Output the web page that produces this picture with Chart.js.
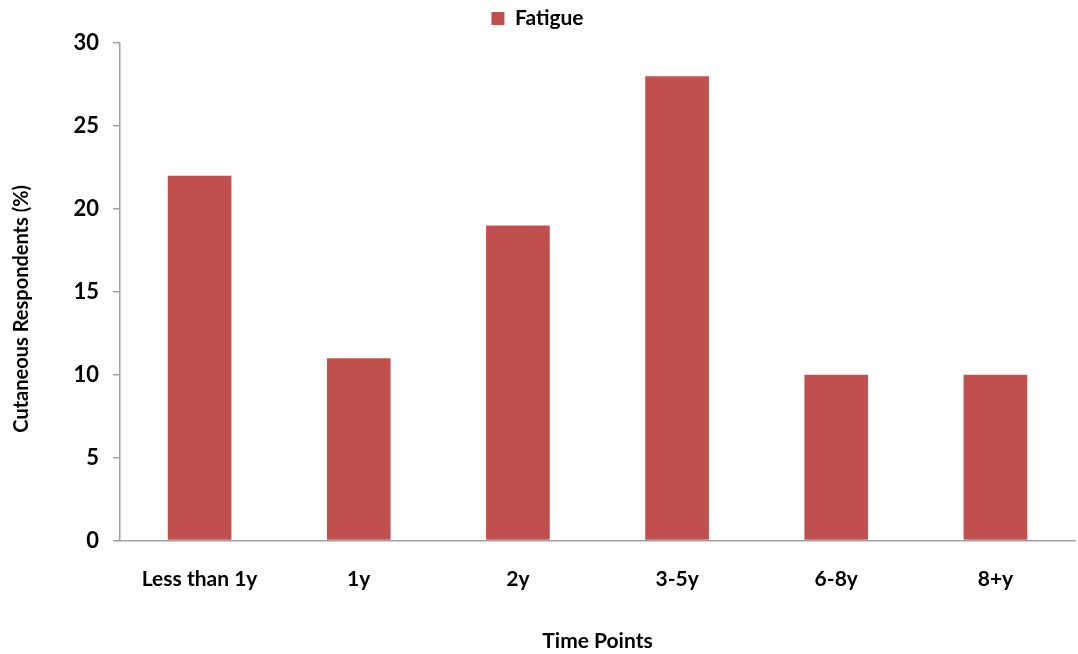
<!DOCTYPE html>
<html>
<head>
<meta charset="utf-8">
<script src="https://cdn.jsdelivr.net/npm/chart.js@4/dist/chart.umd.min.js"></script>
<style>
  html, body { margin: 0; padding: 0; background: #fff; }
  #wrap { width: 1078px; height: 654px; }
</style>
</head>
<body>
<div id="wrap"><canvas id="c" width="1078" height="654"></canvas></div>
<script>
const categories = ['Less than 1y', '1y', '2y', '3-5y', '6-8y', '8+y'];
const fatigue = [22, 11, 19, 28, 10, 10];
const yTicks = [0, 5, 10, 15, 20, 25, 30];

const FONT = 'Lato, "Open Sans", sans-serif';

// Adds a little breathing room between the legend and the plot area.
const legendGap = {
  id: 'legendGap',
  afterInit(chart) {
    const lg = chart.legend;
    if (!lg) return;
    const fit = lg.fit.bind(lg);
    lg.fit = function () { fit(); this.height += chart.options.plugins.legendGap.extra; };
  }
};

new Chart(document.getElementById('c'), {
  type: 'bar',
  data: {
    labels: categories,
    datasets: [{
      label: 'Fatigue',
      data: fatigue,
      backgroundColor: '#C0504D',
      borderWidth: 0,
      barPercentage: 0.8,
      categoryPercentage: 0.5
    }]
  },
  plugins: [legendGap],
  options: {
    responsive: false,
    animation: false,
    layout: { padding: { left: 0, right: 3, top: 0, bottom: 0 } },
    plugins: {
      legendGap: { extra: 4 },
      tooltip: { enabled: false },
      legend: {
        position: 'top',
        labels: {
          color: '#000',
          font: { family: FONT, size: 21, weight: 'bold' },
          boxWidth: 13,
          boxHeight: 13,
          padding: 8
        }
      }
    },
    scales: {
      x: {
        grid: { display: false, drawTicks: false },
        border: { display: true, color: '#A0A0A0', width: 1.5 },
        ticks: {
          color: '#000',
          font: { family: FONT, size: 21, weight: 'bold' },
          padding: 26,
          maxRotation: 0
        },
        title: {
          display: true,
          text: 'Time Points',
          color: '#000',
          font: { family: FONT, size: 21, weight: 'bold' },
          padding: { top: 11, bottom: 0 }
        }
      },
      y: {
        min: 0,
        max: 30,
        afterBuildTicks: (s) => { s.ticks = yTicks.map(v => ({ value: v })); },
        afterFit: (s) => { s.width = 120; },
        grid: {
          drawOnChartArea: false,
          drawTicks: true,
          tickLength: 7,
          color: '#A0A0A0',
          lineWidth: 1.5
        },
        border: { display: true, color: '#A0A0A0', width: 1.5 },
        ticks: {
          color: '#000',
          font: { family: FONT, size: 22, weight: 'bold' },
          padding: 14
        },
        title: {
          display: true,
          text: 'Cutaneous Respondents (%)       ',
          color: '#000',
          font: { family: FONT, size: 20, weight: 'bold' },
          padding: { top: 10, bottom: 0 }
        }
      }
    }
  }
});
</script>
</body>
</html>
